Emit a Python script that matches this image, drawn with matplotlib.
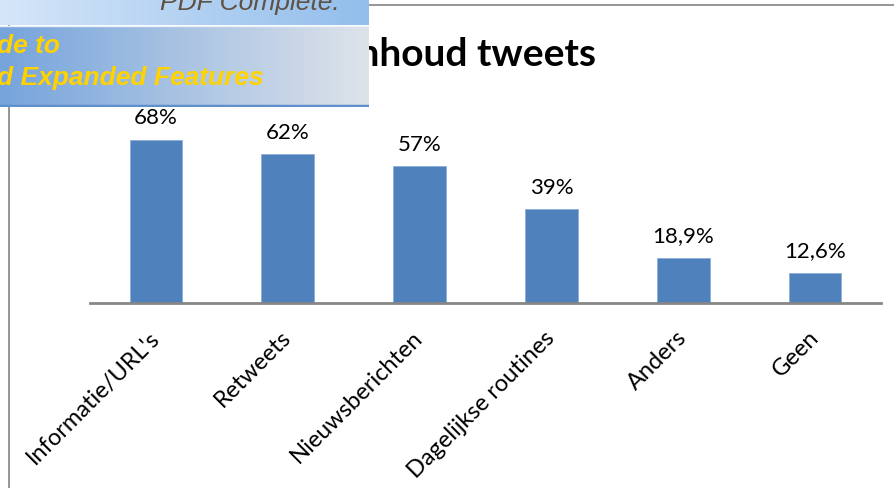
import matplotlib.pyplot as plt
import numpy as np
from matplotlib.patches import Rectangle

plt.rcParams['font.family'] = ['Lato', 'DejaVu Sans']

categories = ["Informatie/URL's", "Retweets", "Nieuwsberichten",
              "Dagelijkse routines", "Anders", "Geen"]
values = [68, 62, 57, 39, 18.9, 12.6]
title = "Inhoud tweets"

W, H = 895, 489
fig = plt.figure(figsize=(W / 100, H / 100), dpi=100)


def fx(px):
    return px / W


def fy(py):
    # pixel rows counted from the top
    return 1 - py / H


# chart frame (only the left and top edges are visible)
fig.patches.append(Rectangle((fx(9), fy(H + 10)), fx(W + 20), fy(6) - fy(H + 10),
                             transform=fig.transFigure, fill=False,
                             edgecolor="#8c8c8c", lw=1.3, zorder=1))

ax = fig.add_axes([fx(90), fy(304), fx(881 - 90), fy(100) - fy(304)])
x = np.arange(len(categories))
bars = ax.bar(x, values, width=0.4, color="#4f81bd", edgecolor="#8eb0d8",
              linewidth=0.6)
labels = [("%g%%" % v).replace(".", ",") for v in values]
ax.bar_label(bars, labels=labels, padding=9, fontsize=16)

ax.set_xlim(-0.5, len(categories) - 0.5)
ax.set_ylim(0, 85)
ax.set_yticks([])
ax.set_xticks(x)
ax.set_xticklabels(categories, rotation=45, ha="right", va="center",
                   rotation_mode="anchor", fontsize=17)
ax.tick_params(axis="x", length=0, pad=22)
for s in ["left", "right", "top"]:
    ax.spines[s].set_visible(False)
ax.spines["bottom"].set_color("#868686")
ax.spines["bottom"].set_linewidth(2)

fig.text(fx(596), fy(55), title, ha="right", va="center",
         fontsize=28, fontweight="bold")

# "PDF Complete" banner over the top-left corner
bx = fig.add_axes([0, fy(108), fx(369), fy(0) - fy(108)], zorder=10)
bx.set_xlim(0, 369)
bx.set_ylim(108, 0)
bx.axis("off")
t = np.linspace(0, 1, 200)
top_left = np.array([214, 230, 248]) / 255
top_right = np.array([146, 190, 236]) / 255
bot_left = np.array([118, 164, 220]) / 255
bot_right = np.array([222, 227, 234]) / 255
top_band = (top_left[None, :] * (1 - t[:, None]) + top_right[None, :] * t[:, None])[None, :, :]
bot_band = (bot_left[None, :] * (1 - t[:, None]) + bot_right[None, :] * t[:, None])[None, :, :]
bx.imshow(top_band, extent=[0, 369, 26, 0], aspect="auto")
bx.imshow(bot_band, extent=[0, 369, 106, 27], aspect="auto")
bx.axhline(26.5, color="#e8f0f8", lw=1)
bx.axhline(107, color="#5f8fcc", lw=2.5)

bx.text(340, 10, "PDF Complete.", ha="right", va="baseline", fontsize=19,
        style="italic", color="#5e5245", family="Liberation Sans")
bx.text(-3, 46, "de to", ha="left", va="center", fontsize=19,
        style="italic", fontweight="bold", color="#ffd200", family="Liberation Sans")
bx.text(-3, 78, "d Expanded Features", ha="left", va="center", fontsize=19,
        style="italic", fontweight="bold", color="#ffd200", family="Liberation Sans")

fig.savefig("out.png", dpi=100)
